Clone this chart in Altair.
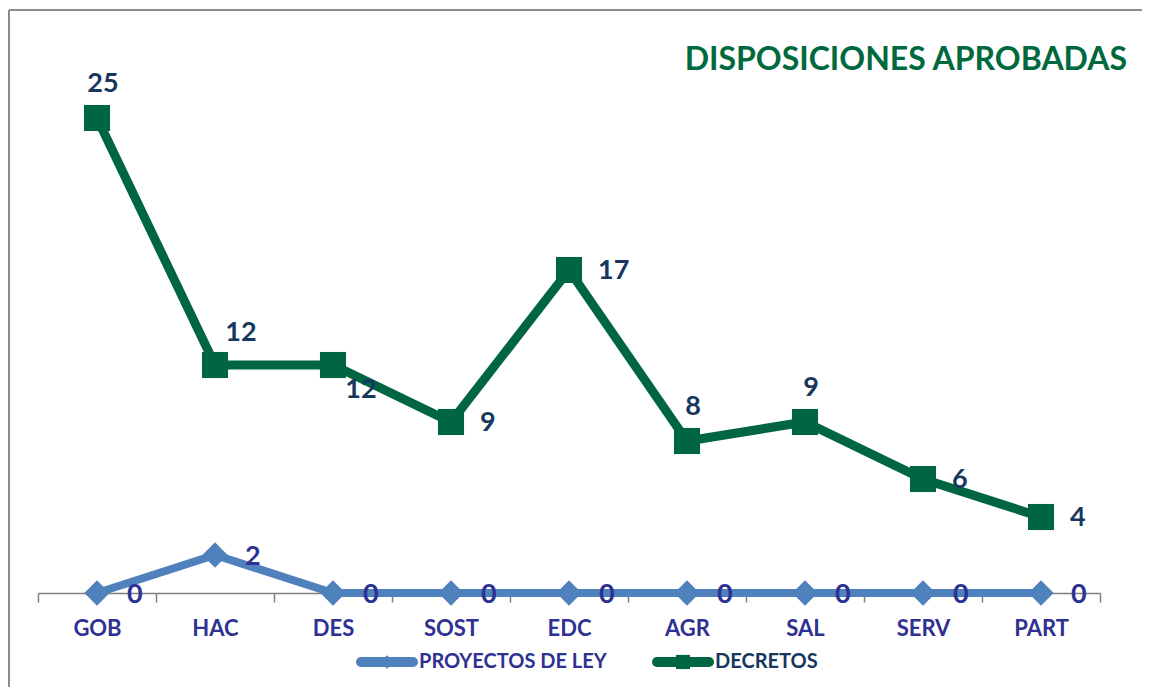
import altair as alt
import pandas as pd

categories = ["GOB", "HAC", "DES", "SOST", "EDC", "AGR", "SAL", "SERV", "PART"]
proyectos = [0, 2, 0, 0, 0, 0, 0, 0, 0]
decretos = [25, 12, 12, 9, 17, 8, 9, 6, 4]
series_names = ["PROYECTOS DE LEY", "DECRETOS"]
title_text = "DISPOSICIONES APROBADAS"

df = pd.DataFrame({
    "cat": categories * 2,
    "serie": [series_names[0]] * len(categories) + [series_names[1]] * len(categories),
    "valor": proyectos + decretos,
})

BLUE = "#4F81BD"
GREEN = "#006641"
TITLE_GREEN = "#00693E"
NAVY = "#17375E"
PURPLE = "#2E3192"
GRAY = "#808080"
FONT = "Lato"
W = "bold"

x = alt.X(
    "cat:N", sort=categories,
    scale=alt.Scale(type="band", paddingInner=0, paddingOuter=0),
    axis=alt.Axis(title=None, labelAngle=0, labelFont=FONT, labelFontSize=22,
                  labelFontWeight=W, labelColor=PURPLE, labelPadding=16,
                  tickBand="extent", tickSize=9, tickColor=GRAY, tickWidth=1.5,
                  domainColor=GRAY, domainWidth=1.5, grid=False),
)
y = alt.Y("valor:Q", scale=alt.Scale(domain=[0, 29.105], nice=False, zero=True), axis=None)

base = alt.Chart(df).encode(x=x, y=y)
dec = base.transform_filter(alt.datum.serie == series_names[1])
pro = base.transform_filter(alt.datum.serie == series_names[0])

dec_line = dec.mark_line(color=GREEN, strokeWidth=9)
dec_pts = dec.mark_point(shape="square", size=680, filled=True, color=GREEN, opacity=1)
pro_line = pro.mark_line(color=BLUE, strokeWidth=8)
pro_pts = pro.mark_point(shape="diamond", size=640, filled=True, color=BLUE, opacity=1)

def lab(data, cats, color, **kw):
    return (data.transform_filter(alt.FieldOneOfPredicate(field="cat", oneOf=cats))
            .mark_text(font=FONT, fontSize=27, fontWeight=W, color=color,
                       baseline="middle", **kw)
            .encode(text="valor:Q"))

labels = [
    lab(dec, ["GOB", "AGR", "SAL"], NAVY, align="center", dx=6, dy=-34),
    lab(dec, ["HAC"], NAVY, align="center", dx=26, dy=-32),
    lab(dec, ["DES"], NAVY, align="center", dx=28, dy=25),
    lab(dec, ["SOST", "EDC", "SERV", "PART"], NAVY, align="left", dx=29, dy=1),
    lab(pro, categories, PURPLE, align="left", dx=30, dy=2),
]

one = alt.Chart(pd.DataFrame({"k": [0]}))
frame_top = one.mark_rule(color="#8c8c8c", strokeWidth=2).encode(
    x=alt.value(-29), x2=alt.value(1110), y=alt.value(-30))
frame_left = one.mark_rule(color="#8c8c8c", strokeWidth=2).encode(
    x=alt.value(-29), y=alt.value(-30), y2=alt.value(660))

title = one.mark_text(font=FONT, fontSize=32, fontWeight=W, color=TITLE_GREEN,
                      align="right", baseline="middle").encode(
    x=alt.value(1089), y=alt.value(20), text=alt.value(title_text))

# legend
leg_y = 622
leg_blue_line = one.mark_rule(color=BLUE, strokeWidth=10, strokeCap="round").encode(
    x=alt.value(323), x2=alt.value(375), y=alt.value(leg_y))
leg_blue_pt = one.mark_point(shape="diamond", size=180, filled=True, color=BLUE, opacity=1).encode(
    x=alt.value(349), y=alt.value(leg_y))
leg_blue_txt = one.mark_text(font=FONT, fontSize=20, fontWeight=W, color=PURPLE,
                             align="left", baseline="middle").encode(
    x=alt.value(381), y=alt.value(leg_y), text=alt.value(series_names[0]))
leg_green_line = one.mark_rule(color=GREEN, strokeWidth=10, strokeCap="round").encode(
    x=alt.value(619), x2=alt.value(671), y=alt.value(leg_y))
leg_green_pt = one.mark_point(shape="square", size=200, filled=True, color=GREEN, opacity=1).encode(
    x=alt.value(645), y=alt.value(leg_y))
leg_green_txt = one.mark_text(font=FONT, fontSize=20, fontWeight=W, color=NAVY,
                              align="left", baseline="middle").encode(
    x=alt.value(677), y=alt.value(leg_y), text=alt.value(series_names[1]))

chart = alt.layer(
    frame_top, frame_left, title,
    dec_line, pro_line, dec_pts, pro_pts, *labels,
    leg_blue_line, leg_blue_pt, leg_blue_txt, leg_green_line, leg_green_pt, leg_green_txt,
).properties(
    width=1062, height=553,
    autosize=alt.AutoSizeParams(type="none"),
    padding={"left": 30, "top": 32, "right": 42, "bottom": 94},
).configure_view(stroke=None)

chart.save("out.html", embed_options={"renderer": "svg", "actions": False})
